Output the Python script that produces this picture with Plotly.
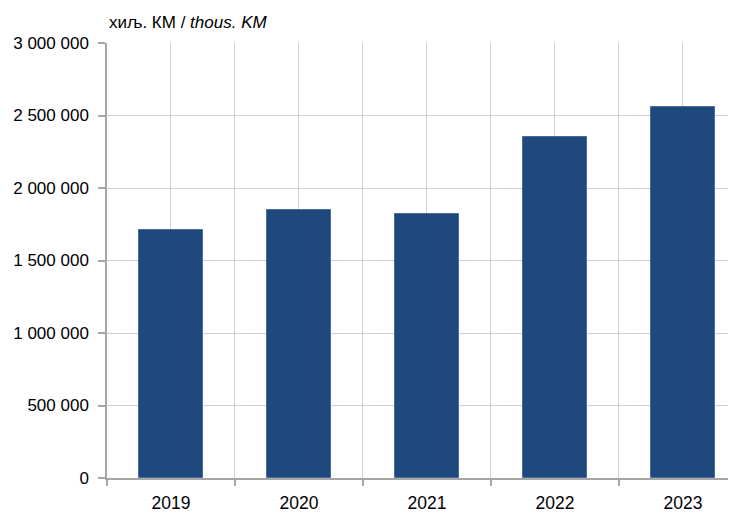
import plotly.graph_objects as go

years = ["2019", "2020", "2021", "2022", "2023"]
values = [1708000, 1849000, 1823000, 2354000, 2562000]
y_ticks = [0, 500000, 1000000, 1500000, 2000000, 2500000, 3000000]

xpos = list(range(len(years)))
boundaries = [i - 0.5 for i in range(len(years) + 1)]

fig = go.Figure()
fig.add_trace(go.Bar(
    x=xpos, y=values, width=0.5,
    marker=dict(color="#1f497d", line=dict(color="#4a6c9c", width=1)),
))

FAM = "Liberation Sans, Arial, sans-serif"
font = dict(family=FAM, size=17, color="#000000")
fig.update_layout(
    width=736, height=513,
    margin=dict(l=99, r=0, t=35, b=43),
    paper_bgcolor="white", plot_bgcolor="white",
    separators=", ",
    showlegend=False,
    font=font,
    bargap=0,
    xaxis=dict(
        range=[-0.5, 4.477],
        tickmode="array", tickvals=xpos, ticktext=years,
        tickfont=dict(family=FAM, size=17.5, color="#000000"),
        ticks="", showgrid=True, gridcolor="#d0d0d0", gridwidth=1,
        showline=True, linecolor="#a6a6a6", linewidth=1.5,
        zeroline=False,
        minor=dict(tickmode="array", tickvals=boundaries, ticks="outside",
                   ticklen=6, tickcolor="#a6a6a6", tickwidth=1.5,
                   showgrid=True, gridcolor="#d0d0d0", gridwidth=1),
        ticklabelstandoff=8,
        fixedrange=True,
    ),
    yaxis=dict(
        range=[0, 3000000],
        tickmode="array", tickvals=y_ticks,
        tickformat=",d",
        ticks="outside", ticklen=7, tickcolor="#a6a6a6", tickwidth=1.5,
        showgrid=True, gridcolor="#d0d0d0", gridwidth=1,
        showline=True, linecolor="#a6a6a6", linewidth=1.5,
        zeroline=False,
        ticklabelstandoff=6,
        automargin=False,
    ),
    annotations=[dict(
        xref="paper", yref="paper", x=0, y=1, xanchor="left", yanchor="bottom",
        yshift=9, xshift=0, showarrow=False,
        text="хиљ. КМ / <i>thous. KM</i>",
        font=dict(family=FAM, size=17, color="#000000"),
    )],
)

fig.write_html("out.html")
